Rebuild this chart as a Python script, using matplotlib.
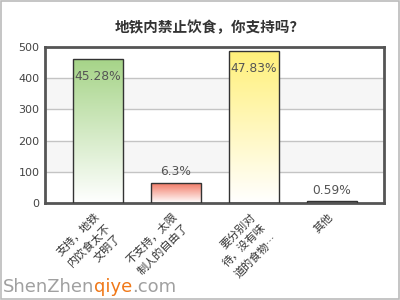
import numpy as np
import matplotlib
matplotlib.use("Agg")
import matplotlib.pyplot as plt
import matplotlib.transforms as mtransforms
from matplotlib.colors import LinearSegmentedColormap
from matplotlib.patches import Rectangle

plt.rcParams['font.family'] = ['Noto Sans CJK SC', 'DejaVu Sans']

title = "地铁内禁止饮食，你支持吗？"
categories = ["支持，地铁\n内饮食太不\n文明了",
              "不支持，太限\n制人的自由了",
              "要分别对\n待，没有味\n道的食物…",
              "其他"]
votes = [460, 64, 486, 6]
pct_labels = ["45.28%", "6.3%", "47.83%", "0.59%"]
yticks = [0, 100, 200, 300, 400, 500]
top_colors = ["#a6d488", "#f27a66", "#fff07a", "#666666"]

fig = plt.figure(figsize=(4, 3), dpi=100)
fig.patch.set_facecolor("white")
ax = fig.add_axes([0.1125, 0.3233, 0.8475, 0.52])

x = np.arange(len(categories))

# alternating background bands and grid lines
for i, (lo, hi) in enumerate(zip(yticks[:-1], yticks[1:])):
    if i % 2 == 1:
        ax.axhspan(lo, hi, color="#f6f6f6", zorder=0, lw=0)
for t in yticks[1:-1]:
    ax.axhline(t, color="#c4c4c4", lw=1, zorder=1)

bars = ax.bar(x, votes, width=0.64, facecolor="none", edgecolor="#333333",
              lw=1, zorder=3)
for b, c in zip(bars, top_colors):
    cmap = LinearSegmentedColormap.from_list("g", ["#ffffff", c])
    grad = np.linspace(0, 1, 256).reshape(-1, 1)
    ax.imshow(grad, cmap=cmap, origin="lower", aspect="auto",
              extent=(b.get_x(), b.get_x() + b.get_width(), 0, b.get_height()),
              zorder=2)
ax.set_xlim(-0.68, 3.67)
ax.set_ylim(0, 500)

for xi, v, lab in zip(x, votes, pct_labels):
    dy = -12 if v > 400 else 8
    ax.annotate(lab, (xi, v), xytext=(0, dy), textcoords="offset points",
                ha="center", va="center", fontsize=8.8, color="#555555",
                family="DejaVu Sans", zorder=4)

for s in ax.spines.values():
    s.set_color("#555555")
    s.set_linewidth(2)

ax.set_yticks(yticks)
ax.set_yticklabels([str(t) for t in yticks], fontsize=8, color="#444444",
                   family="DejaVu Sans")
ax.set_xticks(x)
ax.set_xticklabels(categories, rotation=45, ha="right", va="top",
                   rotation_mode="anchor", multialignment="right",
                   fontsize=8, color="#333333", linespacing=1.55)
ax.tick_params(axis="x", length=0, pad=6)
ax.tick_params(axis="y", length=0, pad=4)
shift = mtransforms.ScaledTranslation(-4 / 100, 0, fig.dpi_scale_trans)
for lbl in ax.get_xticklabels():
    lbl.set_transform(lbl.get_transform() + shift)

fig.text(0.525, 0.91, title, ha="center", va="center", fontsize=10.5,
         fontweight="bold", color="#333333")

# outer border
fig.patches.append(Rectangle((0.002, 0.003), 0.995, 0.994, transform=fig.transFigure,
                             fill=False, edgecolor="#bbbbbb", lw=1.2))

# site mark
renderer = fig.canvas.get_renderer()
xpos = 3
for part, col in [("ShenZhen", "#a0a0a0"), ("qiye", "#f07818"), (".com", "#a0a0a0")]:
    t = fig.text(xpos / 400, 0.025, part, ha="left", va="baseline", fontsize=13,
                 color=col, family="DejaVu Sans")
    bb = t.get_window_extent(renderer)
    xpos += bb.width

fig.savefig("out.png", dpi=100)
